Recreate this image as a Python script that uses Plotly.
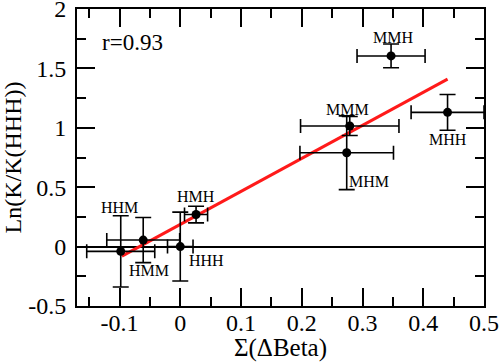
import plotly.graph_objects as go

# data
names = ["HHM", "HMM", "HHH", "HMH", "MHM", "MMM", "MMH", "MHH"]
x_vals = [-0.098, -0.061, 0.0, 0.026, 0.274, 0.279, 0.347, 0.44]
y_vals = [-0.04, 0.055, 0.0, 0.27, 0.79, 1.015, 1.605, 1.13]
x_err = [0.056, 0.06, 0.021, 0.019, 0.077, 0.081, 0.056, 0.06]
y_err = [0.30, 0.19, 0.29, 0.07, 0.31, 0.08, 0.10, 0.15]

# label anchors (data coordinates)
label_x = [-0.10, -0.051, 0.043, 0.026, 0.31, 0.276, 0.35, 0.44]
label_y = [0.33, -0.20, -0.12, 0.42, 0.55, 1.15, 1.76, 0.90]

fit_x = [-0.096, 0.44]
fit_y = [-0.08, 1.41]

r_text = "r=0.93"
x_ticks = [-0.1, 0, 0.1, 0.2, 0.3, 0.4, 0.5]
y_ticks = [-0.5, 0, 0.5, 1, 1.5, 2]

FONT = "Liberation Serif"

fig = go.Figure()
fig.add_trace(go.Scatter(
    x=fit_x, y=fit_y, mode="lines",
    line=dict(color="#ff1a1a", width=3), showlegend=False, hoverinfo="skip"))
fig.add_trace(go.Scatter(
    x=x_vals, y=y_vals, mode="markers",
    marker=dict(color="black", size=9),
    error_x=dict(type="data", array=x_err, visible=True, color="black", thickness=1.6, width=7),
    error_y=dict(type="data", array=y_err, visible=True, color="black", thickness=1.6, width=8),
    showlegend=False))

for n, lx, ly in zip(names, label_x, label_y):
    fig.add_annotation(x=lx, y=ly, text=n, showarrow=False,
                       font=dict(family=FONT, size=16, color="black"))

fig.add_annotation(x=-0.079, y=1.72, text=r_text, showarrow=False,
                   font=dict(family=FONT, size=23, color="black"))

axis_common = dict(
    showgrid=False, showline=True, linecolor="black", linewidth=2, mirror="allticks",
    ticks="inside", ticklen=18, tickwidth=1.6, tickcolor="black",
    tickfont=dict(family=FONT, size=24, color="black"), automargin=False,
    ticklabeloverflow="allow",
)

fig.update_xaxes(range=[-0.17, 0.5], tickmode="array", tickvals=x_ticks,
                 ticktext=[f"{v:g}" for v in x_ticks], zeroline=False,
                 minor=dict(ticks="inside", ticklen=9, tickwidth=1.6, tickcolor="black", dtick=0.05, tick0=0),
                 title=dict(text="Σ(ΔBeta)", font=dict(family=FONT, size=25, color="black"), standoff=0),
                 ticklabelstandoff=-6,
                 **axis_common)
fig.update_yaxes(range=[-0.5, 2], tickmode="array", tickvals=y_ticks,
                 ticktext=[f"{v:g}" for v in y_ticks],
                 zeroline=True, zerolinecolor="black", zerolinewidth=1.6,
                 minor=dict(ticks="inside", ticklen=9, tickwidth=1.6, tickcolor="black", dtick=0.25, tick0=0),
                 title=dict(text="Ln(K/K(HHH))", font=dict(family=FONT, size=24, color="black"), standoff=6),
                 ticklabelstandoff=4,
                 **axis_common)

fig.update_layout(
    width=500, height=362,
    margin=dict(l=77, r=16, t=9, b=56),
    paper_bgcolor="white", plot_bgcolor="white",
    font=dict(family=FONT, color="black"),
    showlegend=False,
)

fig.write_html("out.html", config={"displayModeBar": False},
               post_script="document.body.style.margin='0';document.body.style.padding='0';")
